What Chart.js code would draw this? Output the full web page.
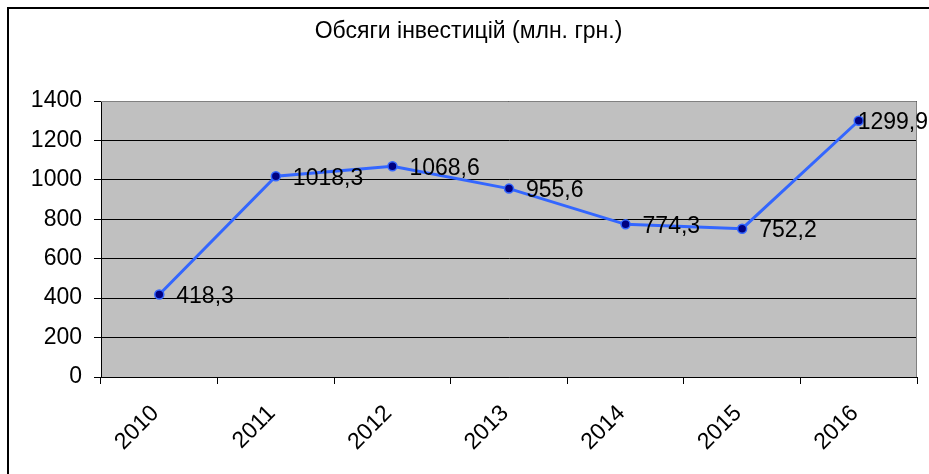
<!DOCTYPE html>
<html>
<head>
<meta charset="utf-8">
<script src="https://cdn.jsdelivr.net/npm/chart.js@4.4.0/dist/chart.umd.min.js"></script>
<style>
  body { margin: 0; background: #fff; }
</style>
</head>
<body>
<canvas id="grafik" width="929" height="474"></canvas>
<script>
var roky = ['2010', '2011', '2012', '2013', '2014', '2015', '2016'];
var investytsii = [418.3, 1018.3, 1068.6, 955.6, 774.3, 752.2, 1299.9];
var nazva = 'Обсяги інвестицій (млн. грн.)';

Chart.defaults.font.family = "'Liberation Sans', Arial, sans-serif";
Chart.defaults.color = '#000';

// фон области построения, рамка и подписи значений
var oformlennia = {
    id: 'oformlennia',
    beforeDraw: function(chart) {
        var c = chart.ctx, a = chart.chartArea;
        c.save();
        c.fillStyle = '#c0c0c0';
        c.fillRect(a.left, a.top, a.right - a.left, a.bottom - a.top);
        c.strokeStyle = '#000';
        c.lineWidth = 2;
        c.beginPath();
        c.moveTo(8, chart.height);
        c.lineTo(8, 8);
        c.lineTo(chart.width, 8);
        c.stroke();
        c.restore();
    },
    beforeDatasetsDraw: function(chart) {
        var c = chart.ctx, a = chart.chartArea;
        c.save();
        c.strokeStyle = '#808080';
        c.lineWidth = 1;
        c.beginPath();
        c.moveTo(a.left, a.top + 0.5);
        c.lineTo(a.right - 0.5, a.top + 0.5);
        c.lineTo(a.right - 0.5, a.bottom);
        c.stroke();
        c.restore();
    },
    afterDatasetsDraw: function(chart) {
        var c = chart.ctx;
        var meta = chart.getDatasetMeta(0);
        c.save();
        c.font = "23px 'Liberation Sans', Arial, sans-serif";
        c.fillStyle = '#000';
        c.textBaseline = 'middle';
        meta.data.forEach(function(p, i) {
            var txt = investytsii[i].toFixed(1).replace('.', ',');
            var w = c.measureText(txt).width;
            var x = p.x + 17;
            if (x + w > chart.width - 1) x = chart.width - 1 - w;
            c.fillText(txt, x, p.y + 2);
        });
        c.restore();
    }
};

var ctx = document.getElementById('grafik').getContext('2d');
var grafik = new Chart(ctx, {
    type: 'line',
    data: {
        labels: roky,
        datasets: [{
            label: nazva,
            data: investytsii,
            borderColor: '#3366ff',
            borderWidth: 3,
            pointRadius: 4.5,
            pointBackgroundColor: '#000080',
            pointBorderColor: '#3366ff',
            pointBorderWidth: 1.5,
            tension: 0
        }]
    },
    options: {
        responsive: false,
        animation: false,
        layout: { padding: { left: 20, right: 12, top: 0, bottom: 0 } },
        plugins: {
            legend: { display: false },
            tooltip: { enabled: false },
            title: {
                display: true,
                text: nazva,
                color: '#000',
                font: { size: 23, weight: 'normal' },
                padding: { top: 18, bottom: 55.4 }
            }
        },
        scales: {
            x: {
                offset: true,
                grid: { offset: true, drawOnChartArea: false, tickLength: 7, color: '#000' },
                border: { color: '#000', width: 1 },
                ticks: {
                    minRotation: 45,
                    maxRotation: 45,
                    padding: 16,
                    labelOffset: -4,
                    font: { size: 23 },
                    color: '#000'
                },
                afterFit: function(s) { s.height = 97; }
            },
            y: {
                min: 0,
                max: 1400,
                ticks: {
                    stepSize: 200,
                    padding: 12,
                    font: { size: 23 },
                    color: '#000',
                    callback: function(v) { return String(v); }
                },
                grid: { color: '#000', tickLength: 7 },
                border: { color: '#000', width: 1 },
                afterFit: function(s) { s.width = 81; }
            }
        }
    },
    plugins: [oformlennia]
});
</script>
</body>
</html>
